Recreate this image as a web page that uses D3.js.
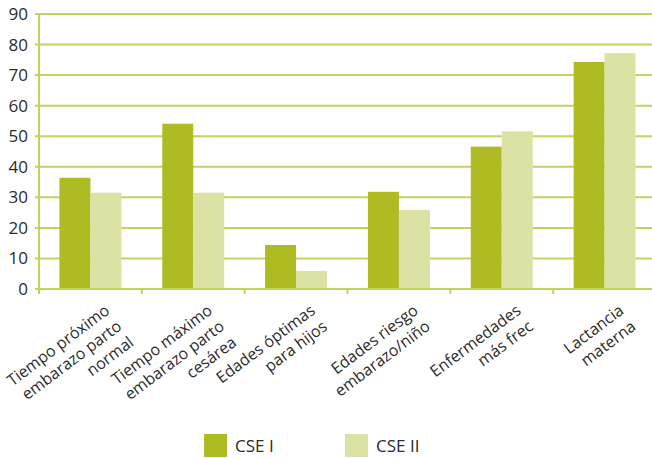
<!DOCTYPE html>
<html>
<head>
<meta charset="utf-8">
<script src="https://cdn.jsdelivr.net/npm/d3@7"></script>
<style>
  body { margin: 0; background: #fff; }
  svg { font-family: "Open Sans", "Noto Sans", sans-serif; }
</style>
</head>
<body>
<svg id="chart" width="652" height="458"></svg>
<script>
const categories = [
  ["Tiempo próximo", "embarazo parto", "normal"],
  ["Tiempo máximo", "embarazo parto", "cesárea"],
  ["Edades óptimas", "para hijos"],
  ["Edades riesgo", "embarazo/niño"],
  ["Enfermedades", "más frec"],
  ["Lactancia", "materna"]
];
const seriesNames = ["CSE I", "CSE II"];
const cse1 = [36.4, 54.1, 14.4, 31.8, 46.6, 74.3];
const cse2 = [31.5, 31.5, 5.9, 25.9, 51.6, 77.2];
const yTicks = [0, 10, 20, 30, 40, 50, 60, 70, 80, 90];

const colors = ["#afbb22", "#dbe2a4"];
const gridColor = "#c6d160";
const textColor = "#2b2b2b";

const svg = d3.select("#chart");
const margin = { top: 14, left: 39, right: -4, bottom: 169 };
const width = 652 - margin.left - margin.right;
const bottom = 458 - margin.bottom;

const xScale = d3.scaleBand()
  .domain(d3.range(categories.length))
  .range([margin.left, margin.left + width])
  .paddingInner(0).paddingOuter(0);

const xSub = d3.scaleBand()
  .domain(seriesNames)
  .range([0, xScale.bandwidth()])
  .paddingInner(0).paddingOuter(0.66);

const yScale = d3.scaleLinear().domain([0, 90]).range([bottom, margin.top]);

// --- grid + y labels ---
svg.append("g")
  .selectAll("line")
  .data(yTicks)
  .enter()
  .append("line")
  .attr("x1", margin.left - 4)
  .attr("x2", 652)
  .attr("y1", d => yScale(d))
  .attr("y2", d => yScale(d))
  .attr("stroke", gridColor)
  .attr("stroke-width", 2);

svg.append("g")
  .selectAll("text")
  .data(yTicks)
  .enter()
  .append("text")
  .attr("x", 28)
  .attr("y", d => yScale(d) + 6)
  .attr("text-anchor", "end")
  .style("font-size", "17px")
  .style("fill", textColor)
  .text(d => d);

// --- bars ---
const rows = categories.map((c, i) => [cse1[i], cse2[i]]);
svg.append("g")
  .selectAll("g")
  .data(rows)
  .enter()
  .append("g")
  .attr("transform", (d, i) => `translate(${xScale(i)},0)`)
  .selectAll("rect")
  .data(d => d.map((v, j) => ({ v, s: seriesNames[j], j })))
  .enter()
  .append("rect")
  .attr("x", d => xSub(d.s))
  .attr("width", xSub.bandwidth())
  .attr("y", d => yScale(d.v))
  .attr("height", d => bottom - yScale(d.v))
  .attr("fill", d => colors[d.j]);

// --- axis lines and category ticks ---
svg.append("line")
  .attr("x1", margin.left).attr("x2", margin.left)
  .attr("y1", margin.top).attr("y2", bottom + 4)
  .attr("stroke", gridColor).attr("stroke-width", 2);

svg.append("line")
  .attr("x1", margin.left - 4).attr("x2", 652)
  .attr("y1", bottom).attr("y2", bottom)
  .attr("stroke", gridColor).attr("stroke-width", 2);

svg.append("g")
  .selectAll("line")
  .data(d3.range(categories.length + 1))
  .enter()
  .append("line")
  .attr("x1", i => margin.left + i * xScale.step())
  .attr("x2", i => margin.left + i * xScale.step())
  .attr("y1", bottom).attr("y2", bottom + 5)
  .attr("stroke", gridColor).attr("stroke-width", 2);

// --- rotated category labels ---
const angle = -37;
const lineH = 20;
const labels = svg.append("g")
  .selectAll("g")
  .data(categories)
  .enter()
  .append("g")
  .attr("transform", (d, i) =>
    `translate(${xScale(i) + xScale.bandwidth() / 2 + 13},${bottom + 14}) rotate(${angle})`);

labels.selectAll("text")
  .data(d => d)
  .enter()
  .append("text")
  .attr("x", 0)
  .attr("y", (d, k) => 12 + k * lineH)
  .attr("text-anchor", "end")
  .style("font-size", "16px")
  .style("fill", textColor)
  .text(d => d);

// --- legend ---
const legend = svg.append("g")
  .selectAll("g")
  .data(seriesNames)
  .enter()
  .append("g")
  .attr("transform", (d, i) => `translate(${204 + i * 141},434)`);

legend.append("rect")
  .attr("width", 23).attr("height", 23)
  .attr("fill", (d, i) => colors[i]);

legend.append("text")
  .attr("x", 31).attr("y", 18)
  .style("font-size", "17px")
  .style("fill", textColor)
  .text(d => d);
</script>
</body>
</html>
